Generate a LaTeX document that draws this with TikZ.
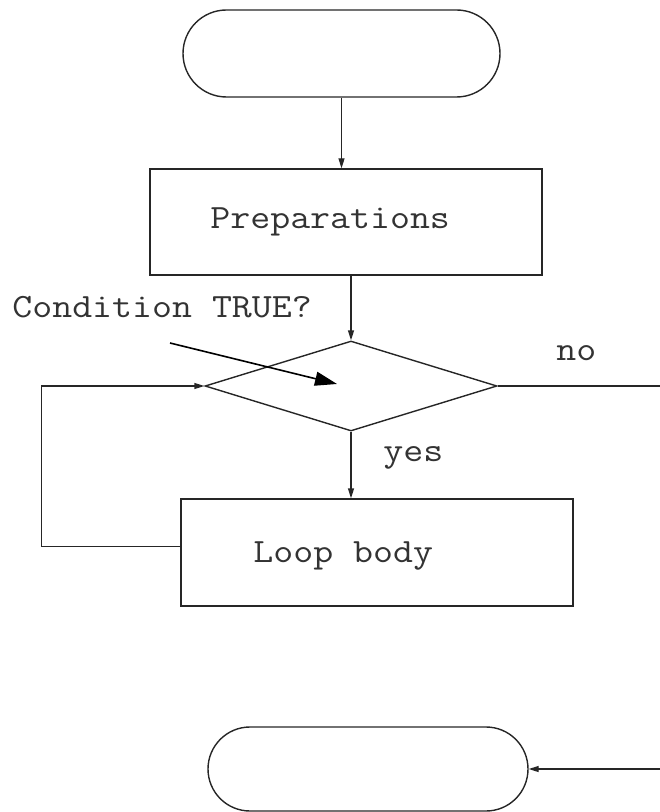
\documentclass[tikz,border=0pt]{standalone}
\usepackage{fontspec}
\newfontfamily\flowfont[FakeStretch=1.14]{Latin Modern Mono}
\usetikzlibrary{arrows.meta,shapes.geometric,shapes.misc}
\tikzset{
  line/.style={line width=0.7pt, draw=black!85},
  flow/.style={line, -{Triangle[length=5pt,width=3pt]}},
  pointer/.style={line width=0.8pt, -{Triangle[length=11pt,width=7pt]}},
  terminal/.style={line, rounded rectangle, inner sep=0pt},
  procbox/.style={line, rectangle, inner sep=0pt},
  decision/.style={line, diamond, inner sep=0pt},
  caption/.style={inner sep=0pt, anchor=base west, text=black!80, font=\flowfont\fontsize{17}{20}\selectfont}
}
\begin{document}
\begin{tikzpicture}[x=0.5pt, y=-0.5pt]
			%%%%% START %%%%%
			\useasboundingbox (0, 0) rectangle (659, 812);
			
			\node[terminal, minimum width=158.5pt, minimum height=43.5pt] (start) at (341.5, 53.5) {};
			\node[procbox, minimum width=196pt, minimum height=53pt] (prep) at (346, 222) {};
			\node[caption] (preptext) at (210, 229) {Preparations};
			
			\node[caption] (cond) at (12, 317) {Condition TRUE?};
			\node[decision, minimum width=146pt, minimum height=45pt] (dec) at (351, 386) {};
			\node[caption] (no) at (556, 360) {no};
			\node[caption] (yes) at (383, 461) {yes};
			
			\node[procbox, minimum width=196pt, minimum height=53.5pt] (body) at (377, 552.5) {};
			\node[caption] (bodytext) at (253, 562) {Loop body};
			
			\node[terminal, minimum width=160pt, minimum height=42pt] (stop) at (368, 769) {};
			
			\draw[flow] (start.south) -- (start.south |- prep.north);
			\draw[flow] (dec.north |- prep.south) -- (dec.north);
			\draw[flow] (dec.south) -- (dec.south |- body.north);
			\draw[flow] ([yshift=3pt]body.west) -- ++(-139, 0) |- (dec.west);
			\draw[flow] (dec.east) -- (665, 386) |- (stop.east);
			
			\coordinate (ptail) at (170, 343);
			\coordinate (phead) at (337, 384);
			\draw[pointer] (ptail) -- (phead);
			
			%%%%% END %%%%%
		\end{tikzpicture}
\end{document}
